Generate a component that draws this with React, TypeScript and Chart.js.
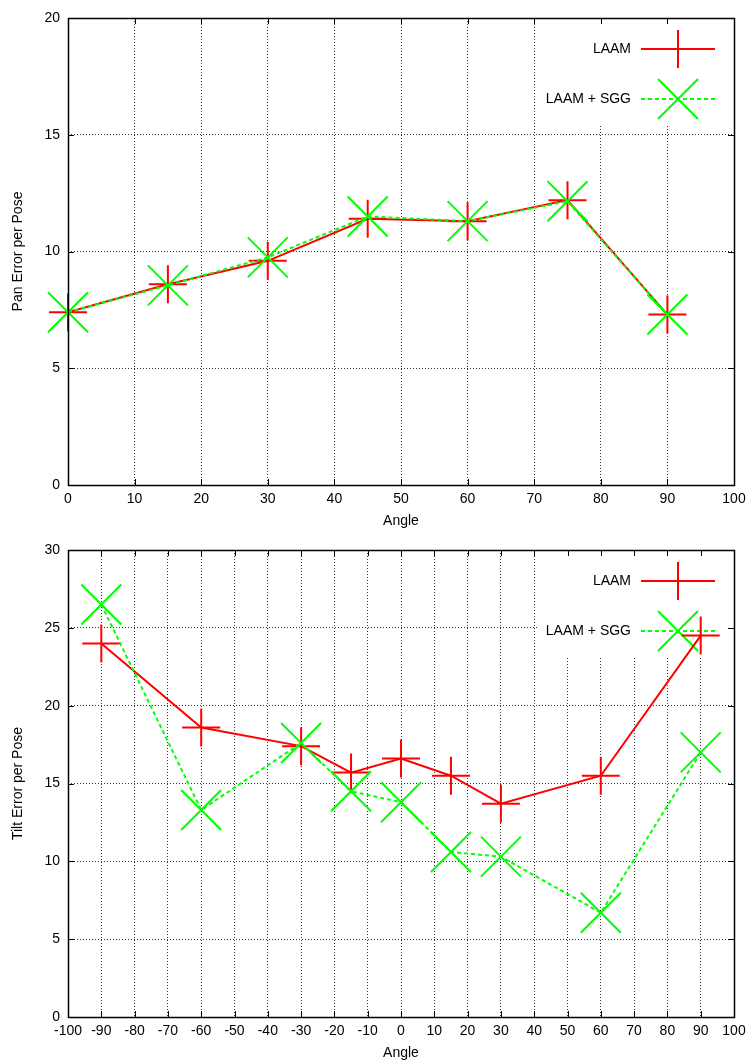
import React, { useEffect, useRef } from "react";
import { Chart, registerables } from "chart.js";

Chart.register(...registerables);

// ---- data ----
const panAngles = [0, 15, 30, 45, 60, 75, 90];
const panLAAM = [7.4, 8.6, 9.6, 11.4, 11.3, 12.2, 7.3];
const panSGG = [7.4, 8.55, 9.75, 11.5, 11.3, 12.15, 7.3];

const tiltAngles = [-90, -60, -30, -15, 0, 15, 30, 60, 90];
const tiltLAAM = [24.0, 18.6, 17.4, 15.7, 16.6, 15.5, 13.7, 15.5, 24.5];
const tiltSGG = [26.5, 13.3, 17.6, 14.5, 13.8, 10.6, 10.3, 6.7, 17.0];

const seriesNames = ["LAAM", "LAAM + SGG"];
const xTitle = "Angle";
const panTitle = "Pan Error per Pose";
const tiltTitle = "Tilt Error per Pose";

const panXRange = [0, 100, 10];
const panYRange = [0, 20, 5];
const tiltXRange = [-100, 100, 10];
const tiltYRange = [0, 30, 5];

// ---- style ----
const FONT = '"Liberation Sans", Arial, Helvetica, sans-serif';
const RED = "#ff0000";
const GREEN = "#00ff00";
const CROSS_R = 19;
const XR = 20;

function drawCross(ctx: CanvasRenderingContext2D, cx: number, cy: number) {
  ctx.beginPath();
  ctx.moveTo(cx - CROSS_R, cy);
  ctx.lineTo(cx + CROSS_R, cy);
  ctx.moveTo(cx, cy - CROSS_R);
  ctx.lineTo(cx, cy + CROSS_R);
  ctx.stroke();
}
function drawX(ctx: CanvasRenderingContext2D, cx: number, cy: number) {
  ctx.beginPath();
  ctx.moveTo(cx - XR, cy - XR);
  ctx.lineTo(cx + XR, cy + XR);
  ctx.moveTo(cx - XR, cy + XR);
  ctx.lineTo(cx + XR, cy - XR);
  ctx.stroke();
}

function makePlugin(yTitle: string) {
  return {
    id: "gnuplotDecor",
    beforeDatasetsDraw(chart: any) {
      const ctx: CanvasRenderingContext2D = chart.ctx;
      const a = chart.chartArea;
      ctx.save();
      // key box clears the grid
      ctx.fillStyle = "#fff";
      ctx.fillRect(538, a.top + 1, a.right - 538 - 1, 106);
      // key
      ctx.font = `14px ${FONT}`;
      ctx.fillStyle = "#000";
      ctx.textAlign = "right";
      ctx.textBaseline = "middle";
      const rows = [a.top + 31, a.top + 81];
      ctx.fillText(seriesNames[0], 631, rows[0]);
      ctx.fillText(seriesNames[1], 631, rows[1]);
      ctx.lineWidth = 2;
      ctx.strokeStyle = RED;
      ctx.setLineDash([]);
      ctx.beginPath();
      ctx.moveTo(641, rows[0]);
      ctx.lineTo(715, rows[0]);
      ctx.stroke();
      drawCross(ctx, 678, rows[0]);
      ctx.strokeStyle = GREEN;
      ctx.setLineDash([4, 3]);
      ctx.beginPath();
      ctx.moveTo(641, rows[1]);
      ctx.lineTo(715, rows[1]);
      ctx.stroke();
      ctx.setLineDash([]);
      drawX(ctx, 678, rows[1]);
      ctx.restore();
    },
    afterDatasetsDraw(chart: any) {
      const ctx: CanvasRenderingContext2D = chart.ctx;
      const a = chart.chartArea;
      ctx.save();
      ctx.setLineDash([]);
      ctx.strokeStyle = "#000";
      ctx.lineWidth = 1;
      const xs = chart.scales.x;
      const ys = chart.scales.y;
      ctx.beginPath();
      xs.ticks.forEach((t: any) => {
        const px = Math.round(xs.getPixelForValue(t.value)) + 0.5;
        ctx.moveTo(px, a.bottom);
        ctx.lineTo(px, a.bottom - 6);
        ctx.moveTo(px, a.top);
        ctx.lineTo(px, a.top + 6);
      });
      ys.ticks.forEach((t: any) => {
        const py = Math.round(ys.getPixelForValue(t.value)) + 0.5;
        ctx.moveTo(a.left, py);
        ctx.lineTo(a.left + 6, py);
        ctx.moveTo(a.right, py);
        ctx.lineTo(a.right - 6, py);
      });
      ctx.stroke();
      ctx.lineWidth = 1.5;
      ctx.strokeRect(a.left + 0.5, a.top + 0.5, a.right - a.left, a.bottom - a.top);
      ctx.restore();
    },
    afterDraw(chart: any) {
      const ctx: CanvasRenderingContext2D = chart.ctx;
      const a = chart.chartArea;
      ctx.save();
      ctx.font = `14px ${FONT}`;
      ctx.fillStyle = "#000";
      ctx.textAlign = "center";
      ctx.textBaseline = "middle";
      ctx.fillText(xTitle, (a.left + a.right) / 2, a.bottom + 36);
      ctx.translate(18, (a.top + a.bottom) / 2);
      ctx.rotate(-Math.PI / 2);
      ctx.fillText(yTitle, 0, 0);
      ctx.restore();
    },
  };
}

function buildConfig(
  angles: number[],
  laam: number[],
  sgg: number[],
  xr: number[],
  yr: number[],
  yTitle: string,
  xAxisHeight: number
): any {
  const tickFont = { family: FONT, size: 14 };
  const grid = { color: "rgba(0,0,0,0.8)", lineWidth: 1, drawTicks: false };
  return {
    type: "line",
    data: {
      datasets: [
        {
          label: seriesNames[0],
          data: angles.map((x, i) => ({ x, y: laam[i] })),
          borderColor: RED,
          backgroundColor: RED,
          borderWidth: 2,
          pointStyle: "cross",
          pointRadius: CROSS_R,
          pointBorderWidth: 2,
          pointBorderColor: RED,
          pointBackgroundColor: RED,
          tension: 0,
          clip: false,
          order: 1,
        },
        {
          label: seriesNames[1],
          data: angles.map((x, i) => ({ x, y: sgg[i] })),
          borderColor: GREEN,
          backgroundColor: GREEN,
          borderWidth: 2,
          borderDash: [4, 3],
          pointStyle: "crossRot",
          pointRadius: XR * Math.SQRT2,
          pointBorderWidth: 2,
          pointBorderColor: GREEN,
          pointBackgroundColor: GREEN,
          tension: 0,
          clip: false,
          order: 0,
        },
      ],
    },
    options: {
      responsive: false,
      maintainAspectRatio: false,
      animation: false,
      events: [],
      layout: { autoPadding: false, padding: { top: 18, right: 15, left: 0, bottom: 0 } },
      plugins: { legend: { display: false }, tooltip: { enabled: false }, title: { display: false } },
      scales: {
        x: {
          type: "linear",
          min: xr[0],
          max: xr[1],
          ticks: {
            stepSize: xr[2],
            autoSkip: false,
            maxRotation: 0,
            minRotation: 0,
            padding: 6,
            color: "#000",
            font: tickFont,
          },
          grid,
          border: { display: false, dash: [1, 2] },
          afterFit: (s: any) => {
            s.height = xAxisHeight;
            s.paddingLeft = 0;
            s.paddingRight = 0;
          },
        },
        y: {
          type: "linear",
          min: yr[0],
          max: yr[1],
          ticks: { stepSize: yr[2], padding: 8, color: "#000", font: tickFont },
          grid,
          border: { display: false, dash: [1, 2] },
          afterFit: (s: any) => {
            s.width = 68;
            s.paddingTop = 0;
            s.paddingBottom = 0;
          },
        },
      },
    },
    plugins: [makePlugin(yTitle)],
  };
}

export default function App() {
  const ref1 = useRef<HTMLCanvasElement>(null);
  const ref2 = useRef<HTMLCanvasElement>(null);
  useEffect(() => {
    const c1 = new Chart(
      ref1.current as HTMLCanvasElement,
      buildConfig(panAngles, panLAAM, panSGG, panXRange, panYRange, panTitle, 45)
    );
    const c2 = new Chart(
      ref2.current as HTMLCanvasElement,
      buildConfig(tiltAngles, tiltLAAM, tiltSGG, tiltXRange, tiltYRange, tiltTitle, 44)
    );
    return () => {
      c1.destroy();
      c2.destroy();
    };
  }, []);
  return (
    <div style={{ position: "absolute", left: 0, top: 0, width: 749, height: 1061, background: "#fff" }}>
      <canvas
        ref={ref1}
        width={749}
        height={530}
        style={{ position: "absolute", left: 0, top: 0, width: 749, height: 530 }}
      />
      <canvas
        ref={ref2}
        width={749}
        height={529}
        style={{ position: "absolute", left: 0, top: 532, width: 749, height: 529 }}
      />
    </div>
  );
}
